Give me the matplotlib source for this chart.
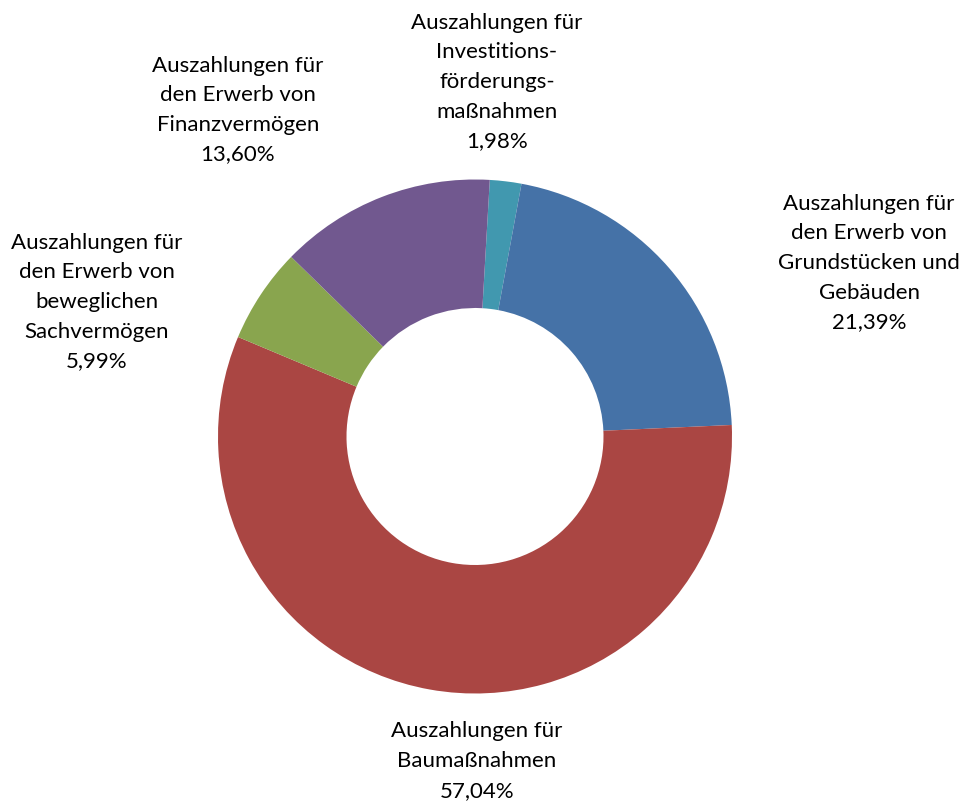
import matplotlib.pyplot as plt

# data (clockwise from top)
labels = [
    "Auszahlungen für\nInvestitions-\nförderungs-\nmaßnahmen",
    "Auszahlungen für\nden Erwerb von\nGrundstücken und\nGebäuden",
    "Auszahlungen für\nBaumaßnahmen",
    "Auszahlungen für\nden Erwerb von\nbeweglichen\nSachvermögen",
    "Auszahlungen für\nden Erwerb von\nFinanzvermögen",
]
values = [1.98, 21.39, 57.04, 5.99, 13.60]
pct_labels = ["1,98%", "21,39%", "57,04%", "5,99%", "13,60%"]
colors = ["#4198AF", "#4572A7", "#AA4643", "#89A54E", "#71588F"]

# label centres in pixels (x, y from top)
label_px = [(497, 82), (869, 263), (477, 761), (97, 302), (238, 110)]

W, H = 965, 803
cx, cy, R = 475, 437.5, 257.0

fig = plt.figure(figsize=(W / 100, H / 100), dpi=100)
ax = fig.add_axes([0, 0, 1, 1])

ax.pie(values, colors=colors, startangle=90 - 3.3, counterclock=False,
       radius=1.0, wedgeprops=dict(width=0.5, edgecolor="none"))

ax.set_aspect("auto")
ax.set_xlim(-cx / R, (W - cx) / R)
ax.set_ylim(-(H - cy) / R, cy / R)
ax.axis("off")

for lab, pct, (px, py) in zip(labels, pct_labels, label_px):
    x = (px - cx) / R
    y = (cy - py) / R
    ax.text(x, y, lab + "\n" + pct, ha="center", va="center",
            multialignment="center", fontsize=16, family="Lato",
            linespacing=1.6, color="#000000")

fig.savefig("out.png", dpi=100)
